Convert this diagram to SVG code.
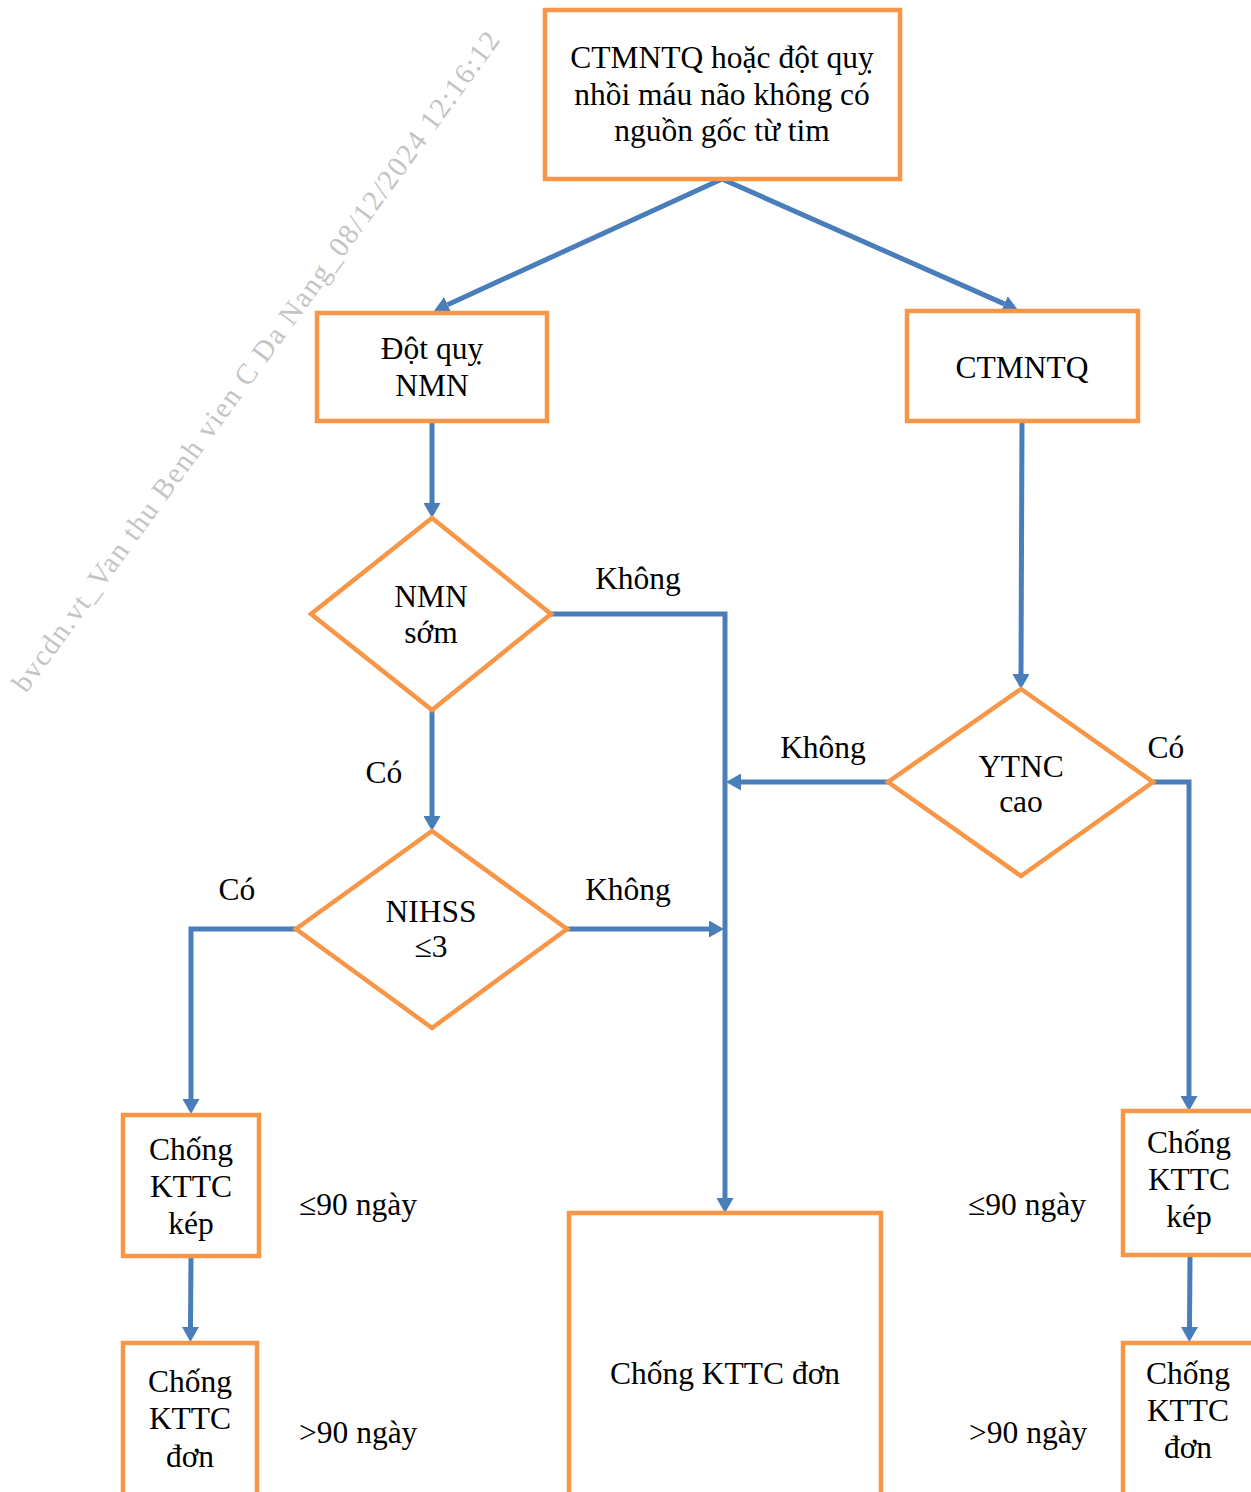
<svg xmlns="http://www.w3.org/2000/svg" width="1251" height="1492" viewBox="0 0 1251 1492">
<defs>
<marker id="arr" viewBox="0 0 15 17" refX="0" refY="8.5" markerWidth="15" markerHeight="17" markerUnits="userSpaceOnUse" orient="auto"><path d="M0,0 L15,8.5 L0,17 z" fill="#4A7EBB"/></marker>
<style>
.box{fill:#fff;stroke:#F79646;stroke-width:4.5}
.t{font-family:"Liberation Serif","Times New Roman",serif;font-size:31.5px;fill:#000;text-anchor:middle}
.ts{font-family:"Liberation Serif","Times New Roman",serif;font-size:31.5px;fill:#000}
.c{fill:none;stroke:#4A7EBB;stroke-width:5}
.ca{fill:none;stroke:#4A7EBB;stroke-width:5;marker-end:url(#arr)}
.wm{font-family:"Liberation Serif","Times New Roman",serif;font-size:29px;fill:#c4c4c4}
</style>
</defs>
<rect width="1251" height="1492" fill="#fff"/>
<text class="wm" transform="translate(26,694) rotate(-54)" textLength="808" lengthAdjust="spacing">bvcdn.vt_Van thu Benh vien C Da Nang_08/12/2024 12:16:12</text>
<g id="connectors">
<path class="ca" d="M722,179 L447.6,304.7"/>
<path class="ca" d="M722,179 L1004.3,303.9"/>
<path class="ca" d="M432,421 L432,503"/>
<path class="ca" d="M551,614 L725,614 L725,1198"/>
<path class="ca" d="M432,710 L432,816"/>
<path class="ca" d="M567,929 L709,929"/>
<path class="ca" d="M296,929 L191,929 L191,1099"/>
<path class="ca" d="M191,1256 L190.5,1327"/>
<path class="ca" d="M1022,421 L1021,674"/>
<path class="ca" d="M888,782 L741,782"/>
<path class="ca" d="M1153,782 L1189,782 L1189,1096"/>
<path class="ca" d="M1190,1256 L1189.5,1327"/>
</g>
<g id="n-top"><rect class="box" x="545" y="10" width="355" height="169"/>
<text class="t" x="722" y="68">CTMNTQ hoặc đột quỵ</text>
<text class="t" x="722" y="105">nhồi máu não không có</text>
<text class="t" x="722" y="141">nguồn gốc từ tim</text></g>
<g id="n-dq"><rect class="box" x="317" y="313" width="230" height="108"/>
<text class="t" x="432" y="359">Đột quỵ</text>
<text class="t" x="432" y="396">NMN</text></g>
<g id="n-ct"><rect class="box" x="907" y="311" width="231" height="110"/>
<text class="t" x="1022" y="378">CTMNTQ</text></g>
<g id="d-nmn"><polygon class="box" points="432,518 551,614 432,710 311,614"/>
<text class="t" x="431" y="607">NMN</text>
<text class="t" x="431" y="643">sớm</text></g>
<g id="d-nihss"><polygon class="box" points="432,831 567,929 432,1028 296,929"/>
<text class="t" x="431" y="922">NIHSS</text>
<text class="t" x="431" y="957">≤3</text></g>
<g id="d-ytnc"><polygon class="box" points="1021,689 1153,782 1021,876 888,782"/>
<text class="t" x="1021" y="777">YTNC</text>
<text class="t" x="1021" y="812">cao</text></g>
<g id="n-lkep"><rect class="box" x="123" y="1115" width="136" height="141"/>
<text class="t" x="191" y="1160">Chống</text>
<text class="t" x="191" y="1197">KTTC</text>
<text class="t" x="191" y="1234">kép</text></g>
<g id="n-ldon"><rect class="box" x="123" y="1343" width="134" height="160"/>
<text class="t" x="190" y="1392">Chống</text>
<text class="t" x="190" y="1429">KTTC</text>
<text class="t" x="190" y="1467">đơn</text></g>
<g id="n-cdon"><rect class="box" x="569" y="1213" width="312" height="300"/>
<text class="t" x="725" y="1384">Chống KTTC đơn</text></g>
<g id="n-rkep"><rect class="box" x="1123" y="1111" width="140" height="144"/>
<text class="t" x="1189" y="1153">Chống</text>
<text class="t" x="1189" y="1190">KTTC</text>
<text class="t" x="1189" y="1227">kép</text></g>
<g id="n-rdon"><rect class="box" x="1123" y="1343" width="140" height="160"/>
<text class="t" x="1188" y="1384">Chống</text>
<text class="t" x="1188" y="1421">KTTC</text>
<text class="t" x="1188" y="1458">đơn</text></g>
<g id="labels">
<text class="t" x="638" y="589">Không</text>
<text class="t" x="384" y="783">Có</text>
<text class="t" x="628" y="900">Không</text>
<text class="t" x="237" y="900">Có</text>
<text class="t" x="823" y="758">Không</text>
<text class="t" x="1166" y="758">Có</text>
<text class="ts" x="299" y="1215">≤90 ngày</text>
<text class="ts" x="299" y="1443">&gt;90 ngày</text>
<text class="ts" x="968" y="1215">≤90 ngày</text>
<text class="ts" x="969" y="1443">&gt;90 ngày</text>
</g>
</svg>
